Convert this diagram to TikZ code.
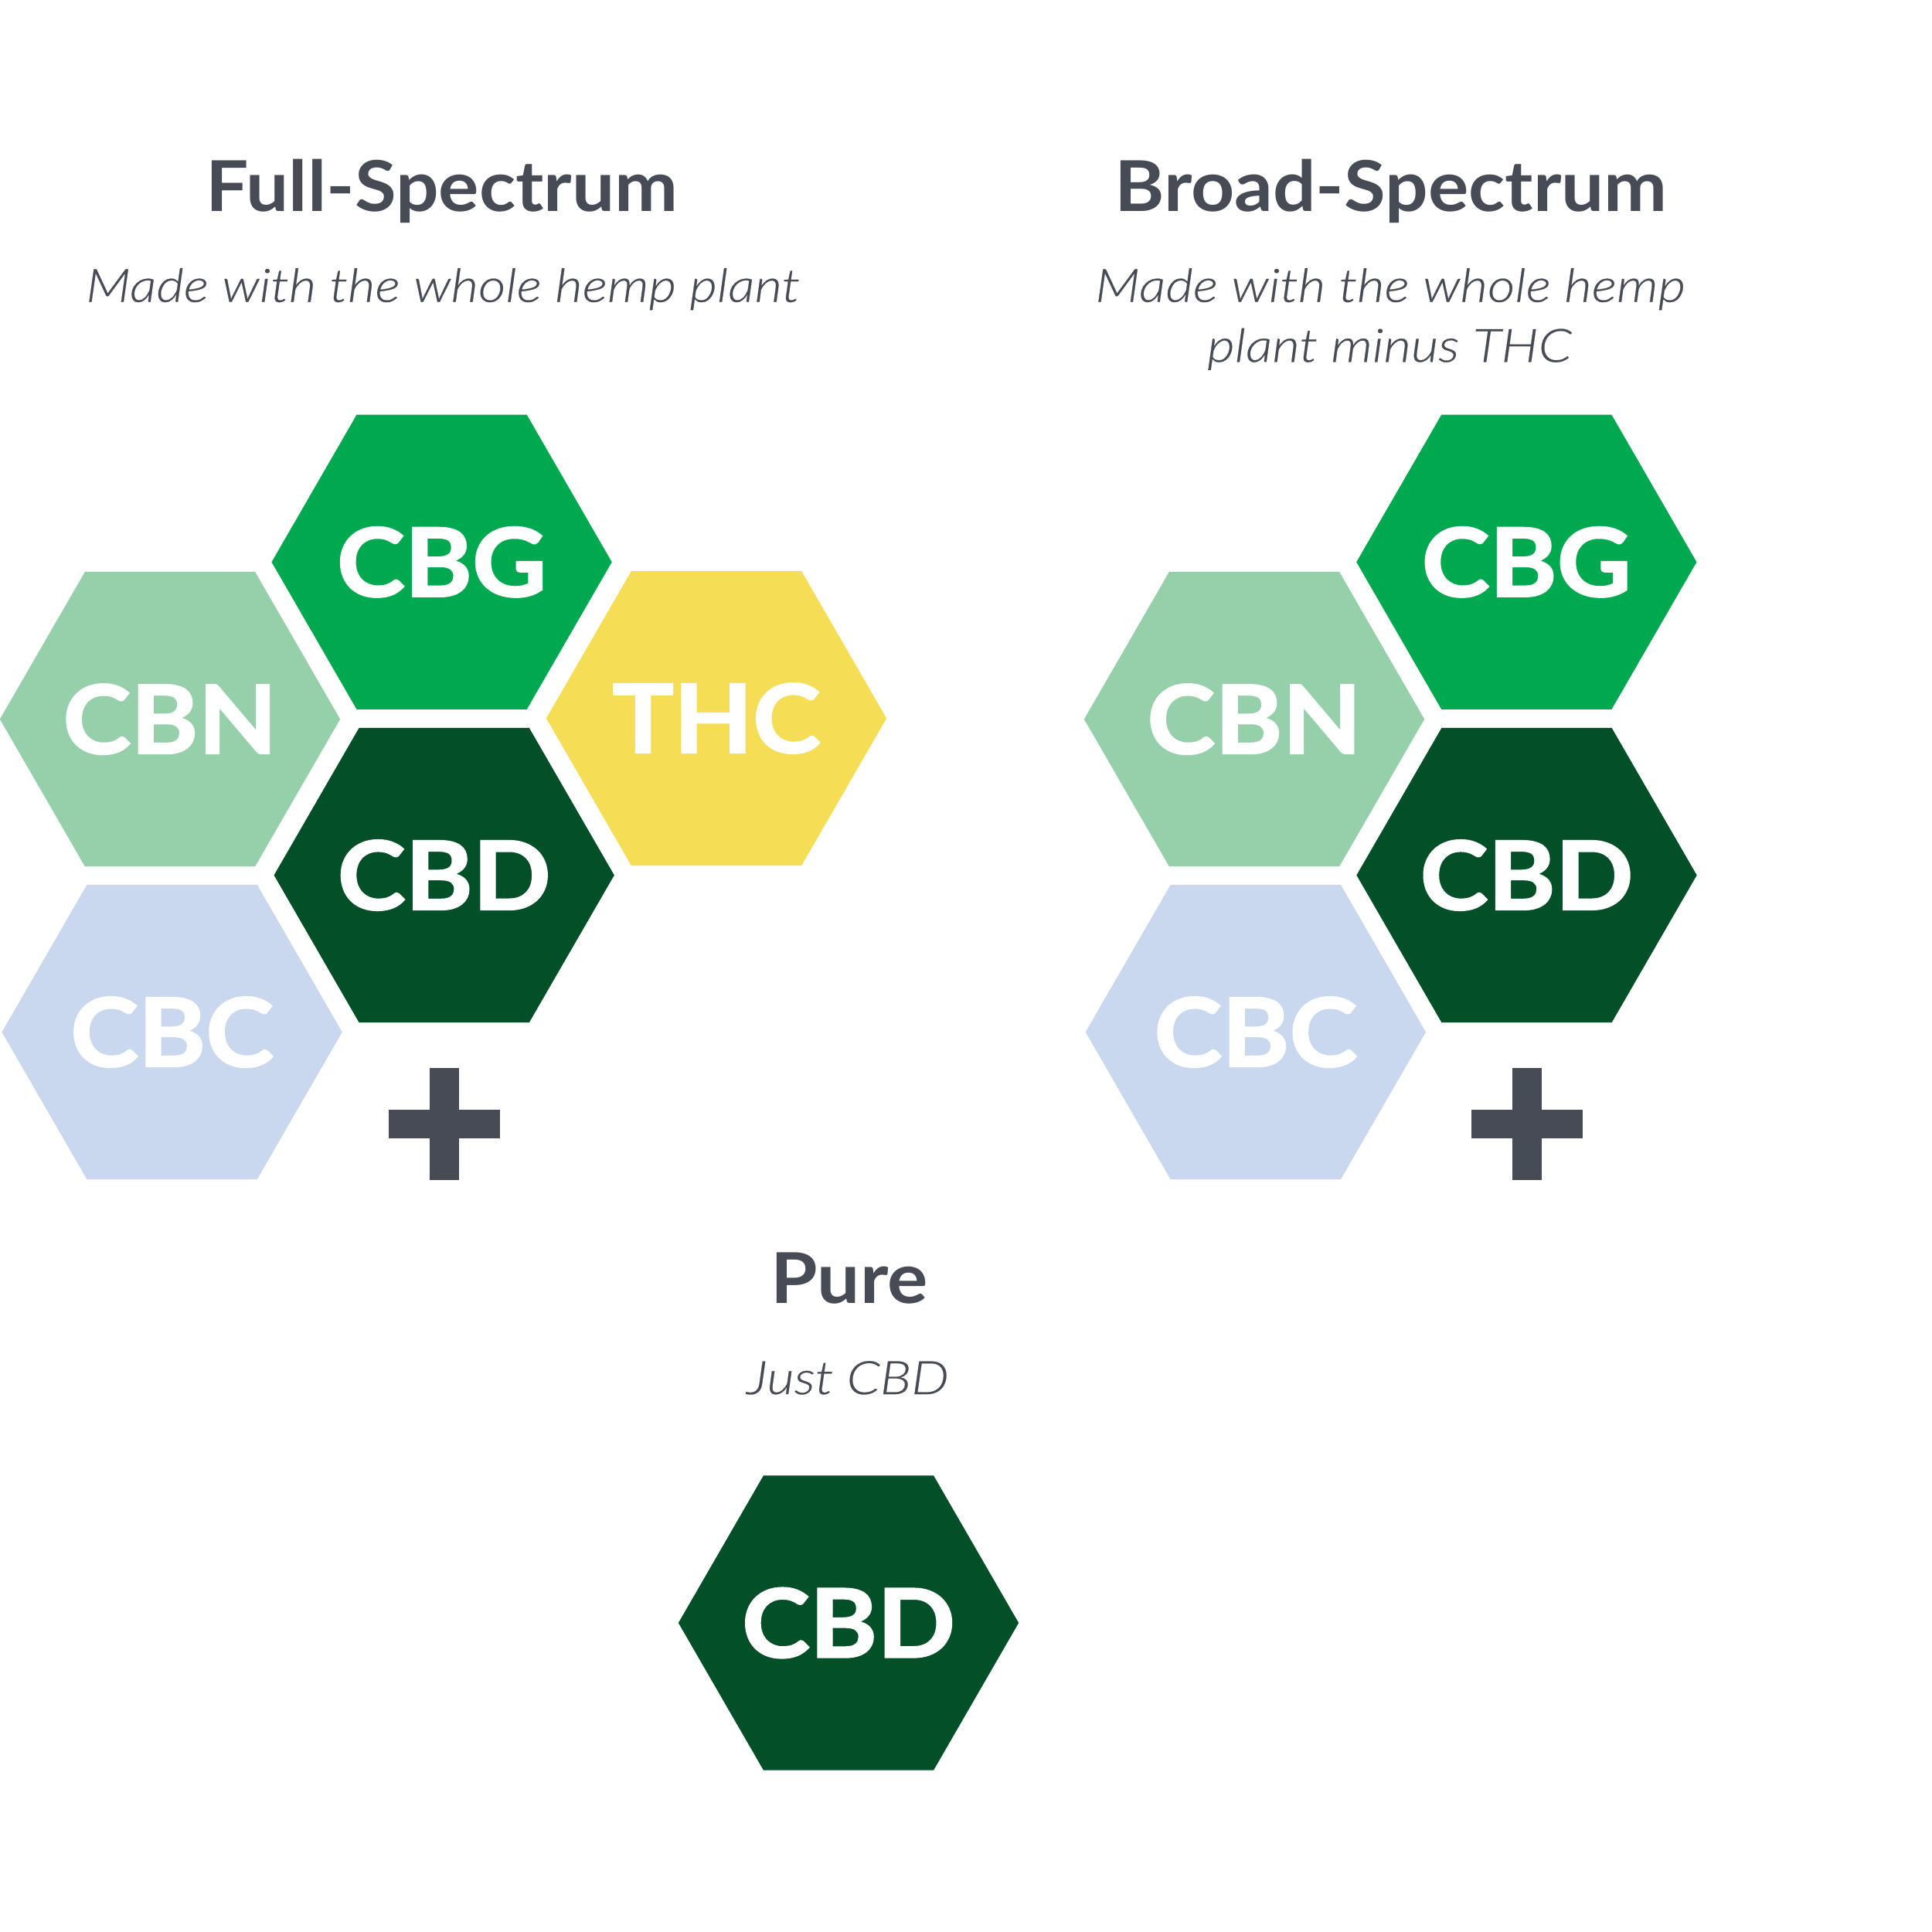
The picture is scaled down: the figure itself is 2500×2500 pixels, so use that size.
\documentclass[tikz,border=0pt]{standalone}
\usepackage{fontspec}
\setmainfont{Lato}
\newfontfamily\titlefont{Lato}[BoldFeatures={FakeStretch=1.08}]
\newfontfamily\hexfont{Lato}[BoldFeatures={FakeBold=2,FakeStretch=1.08}]
\newfontfamily\subfont{Lato Light}[ItalicFont={Lato Light Italic},ItalicFeatures={FakeStretch=1.15,FakeBold=0.4}]
\newcommand\hexlabel[1]{\makebox[0pt][c]{#1}}
\usetikzlibrary{shapes.geometric}
\definecolor{cbgcol}{HTML}{00A94F}
\definecolor{cbncol}{HTML}{95D0AB}
\definecolor{thccol}{HTML}{F5DE55}
\definecolor{cbdcol}{HTML}{034F27}
\definecolor{cbccol}{HTML}{C9D8EE}
\definecolor{txtgray}{HTML}{474B56}
\begin{document}
\begin{tikzpicture}[x=0.01cm,y=-0.01cm,
  hexa/.style={regular polygon, regular polygon sides=6, minimum size=4.4cm,
    inner sep=0pt, outer sep=0pt, draw=none, text=white,
    font=\hexfont\bfseries\fontsize{34.9}{40}\selectfont},
  titletext/.style={anchor=base, inner sep=0pt, text=txtgray,
    font=\titlefont\bfseries\fontsize{25.8}{30}\selectfont},
  subtext/.style={anchor=base, inner sep=0pt, text=txtgray,
    font=\subfont\itshape\fontsize{17}{22}\selectfont},
  plusbar/.style={fill=txtgray}]
\fill[white] (0,0) rectangle (2500,2500);
\useasboundingbox (0,0) rectangle (2500,2500);

% Full-Spectrum
\node[titletext] (ftitle) at (572,273) {Full-Spectrum};
\node[subtext] (fsub) at (573,390.7) {Made with the whole hemp plant};
\node[hexa, fill=cbgcol] (fcbg) at (571.6,727.3) {\hexlabel{CBG}};
\node[hexa, fill=cbncol] (fcbn) at (220,930.6) {\hexlabel{CBN}};
\node[hexa, fill=thccol] (fthc) at (927,929.5) {\hexlabel{THC}};
\node[hexa, fill=cbdcol] (fcbd) at (574.7,1132.5) {\hexlabel{CBD}};
\node[hexa, fill=cbccol] (fcbc) at (222.6,1335.5) {\hexlabel{CBC}};
\fill[plusbar] (555.6,1382) rectangle (593.9,1526.7);
\fill[plusbar] (502.7,1435.6) rectangle (646.7,1473);

% Broad-Spectrum
\node[titletext] (btitle) at (1800,273) {Broad-Spectrum};
\node[subtext] (bsub1) at (1799,390.7) {Made with the whole hemp};
\node[subtext] (bsub2) at (1798,468.3) {plant minus THC};
\node[hexa, fill=cbgcol] (bcbg) at (1975.3,727.3) {\hexlabel{CBG}};
\node[hexa, fill=cbncol] (bcbn) at (1623,930.6) {\hexlabel{CBN}};
\node[hexa, fill=cbdcol] (bcbd) at (1975.5,1132.5) {\hexlabel{CBD}};
\node[hexa, fill=cbccol] (bcbc) at (1624.8,1335.5) {\hexlabel{CBC}};
\fill[plusbar] (1957,1382) rectangle (1994.8,1526.7);
\fill[plusbar] (1903.5,1435.6) rectangle (2048.2,1473);

% Pure
\node[titletext] (ptitle) at (1099,1686) {Pure};
\node[subtext] (psub) at (1097,1804) {Just CBD};
\node[hexa, fill=cbdcol] (pcbd) at (1098,2100) {\hexlabel{CBD}};
\end{tikzpicture}
\end{document}
